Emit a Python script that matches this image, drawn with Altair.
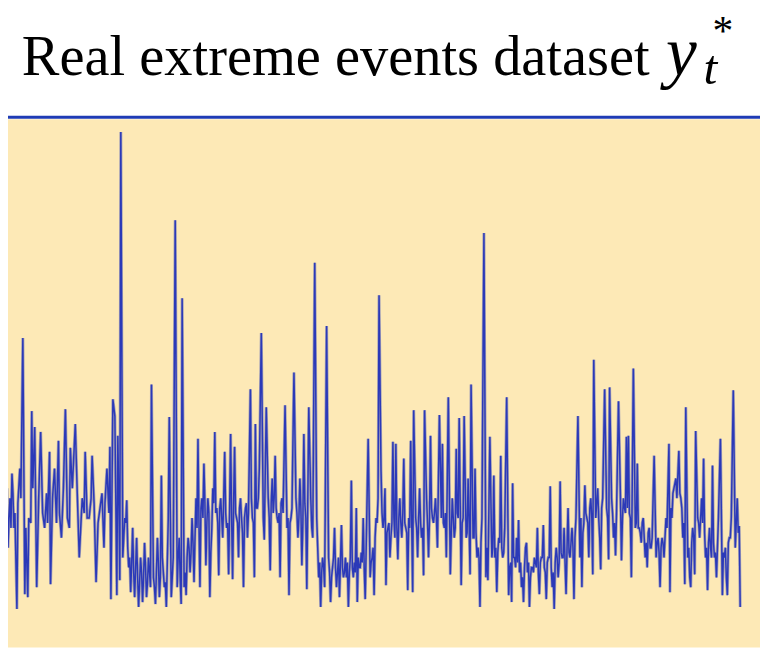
import altair as alt
import pandas as pd

# time position (sample index) and observed value of the series y*_t  (read pass 1: peaks and troughs)
t = [0, 2, 4, 6, 8, 10, 12, 14, 17, 20, 23, 25, 28, 32, 35, 37, 41, 45, 50, 51, 55, 59, 62, 66, 70, 71, 76, 80, 83, 86,
     90, 93, 97, 101, 105, 108, 111, 112, 114, 116, 118, 119, 121, 122, 124, 126, 128, 130, 132, 134, 136, 138, 140,
     142, 144, 146, 148, 150, 152, 153, 155, 157, 159, 161, 163, 166, 168, 170, 171, 173, 175, 177, 179, 181, 183, 184,
     186, 188, 190, 192, 194, 196, 198, 200, 202, 204, 206, 208, 210, 212, 213, 215, 217, 219, 221, 223, 225, 227, 229,
     231, 233, 235, 237, 239, 241, 243, 246, 248, 250, 252, 253, 255, 257, 258, 260, 262, 264, 266, 267, 269, 271, 273,
     275, 278, 280, 283, 285, 288, 290, 292, 294, 297, 299, 301, 303, 305, 307, 309, 310, 312, 314, 316, 318, 320, 322,
     324, 326, 328, 330, 332, 334, 336, 338, 340, 342, 343, 345, 347, 349, 352, 355, 357, 360, 361, 364, 367, 369, 372,
     374, 376, 378, 380, 382, 383, 385, 387, 389, 390, 392, 394, 397, 399, 400, 402, 404, 406, 408, 410, 412, 415, 417,
     418, 420, 422, 424, 426, 428, 429, 431, 433, 435, 437, 440, 442, 444, 446, 447, 449, 451, 453, 455, 457, 459, 461,
     463, 464, 466, 468, 469, 471, 473, 475, 476, 478, 480, 482, 485, 487, 489, 491, 493, 495, 497, 499, 502, 504, 506,
     508, 510, 512, 514, 517, 518, 520, 522, 524, 527, 529, 531, 532, 535, 537, 540, 543, 545, 547, 549, 552, 554, 556,
     558, 560, 562, 564, 566, 568, 570, 572, 574, 576, 578, 580, 582, 584, 586, 588, 591, 593, 595, 597, 599, 600, 602,
     604, 606, 607, 609, 611, 613, 615, 616, 618, 620, 622, 625, 627, 628, 630, 633, 634, 635, 637, 638, 640, 642, 644,
     646, 648, 650, 652, 654, 656, 658, 661, 663, 665, 667, 669, 671, 673, 676, 677, 679, 681, 683, 684, 686, 688, 690,
     692, 693, 695, 697, 698, 700, 702, 703, 705, 707, 709, 711, 713, 715, 717, 719, 720, 722, 724, 726, 728, 730, 732,
     734, 735, 737, 739, 741, 743, 745, 747, 748]

value = [110, 60, 150, 40, 70, 120, 145, 90, 8, 150, 282, 23, 20, 208, 192, 30, 187, 90, 167, 33, 150, 178, 80, 210, 90,
         171, 195, 60, 120, 167, 100, 163, 35, 110, 70, 150, 172, 18, 220, 203, 22, 183, 37, 490, 60, 100, 118, 50, 25,
         90, 20, 80, 10, 60, 15, 75, 20, 60, 30, 235, 40, 13, 80, 20, 143, 30, 10, 100, 202, 20, 60, 401, 30, 80, 13,
         322, 30, 22, 80, 45, 100, 35, 120, 180, 30, 120, 155, 52, 120, 20, 65, 130, 187, 110, 42, 120, 80, 167, 90, 43,
         185, 38, 172, 100, 60, 120, 30, 110, 80, 167, 230, 100, 40, 195, 110, 150, 287, 100, 78, 212, 120, 47, 140, 163,
         100, 40, 120, 214, 90, 22, 100, 247, 120, 80, 140, 52, 185, 100, 28, 212, 120, 80, 358, 100, 40, 10, 60, 30, 294,
         60, 15, 50, 90, 30, 60, 20, 93, 40, 60, 10, 138, 40, 110, 15, 50, 100, 18, 180, 40, 60, 22, 100, 120, 325, 147,
         90, 130, 32, 90, 60, 177, 80, 175, 58, 120, 80, 160, 90, 27, 178, 25, 209, 100, 60, 130, 80, 42, 209, 120, 60,
         183, 100, 120, 70, 204, 100, 175, 90, 60, 222, 43, 120, 80, 170, 100, 201, 32, 100, 203, 80, 140, 43, 235, 80,
         150, 60, 10, 100, 388, 40, 37, 182, 60, 143, 25, 80, 163, 60, 90, 222, 22, 15, 135, 60, 80, 98, 30, 15, 70, 75,
         10, 50, 60, 90, 23, 60, 93, 18, 60, 132, 30, 8, 70, 40, 137, 60, 90, 23, 110, 60, 90, 18, 100, 203, 60, 30, 133,
         100, 60, 120, 43, 260, 100, 130, 80, 48, 120, 230, 110, 58, 232, 120, 80, 62, 218, 120, 57, 120, 182, 110, 183,
         100, 40, 251, 90, 155, 90, 75, 100, 60, 50, 90, 70, 163, 60, 80, 30, 80, 60, 100, 175, 25, 100, 130, 140, 120,
         168, 120, 80, 33, 212, 60, 40, 30, 90, 43, 188, 100, 80, 120, 160, 60, 27, 90, 60, 153, 60, 40, 100, 180, 22, 60,
         40, 22, 80, 100, 229, 70, 120, 92, 10]

# read pass 2: samples inside the dense middle band
t_band = [1, 3, 5, 7, 9, 11, 13, 15, 18, 21, 26, 29, 31, 33, 36, 39, 43, 47, 48, 53, 57, 60, 64, 68, 73, 78, 82, 85, 88,
          92, 95, 99, 103, 106, 110, 120,
          125, 127, 129, 131, 133, 135, 137, 139, 141, 143, 145, 147, 149, 151, 156, 158, 160, 162, 164, 165, 167, 169,
          174, 180, 182, 187, 189, 191, 193, 195, 197, 199,
          201, 203, 205, 207, 209, 211, 214, 216, 218, 220, 222, 224, 226, 228, 230, 232, 234, 236, 238, 240, 242, 244,
          245, 247, 249, 251, 254, 256, 259,
          261, 272, 274, 276, 277, 279, 281, 282, 284, 286, 291, 293, 295, 300, 302, 304, 306, 308, 315,
          321, 323, 325, 327, 333, 335, 337, 339, 341, 344, 346, 348, 350, 351, 353, 354, 356, 358, 359, 362, 363, 365,
          366, 368, 370, 375, 377, 379,
          381, 386, 388, 391, 393, 395, 396, 398, 401, 403, 405, 407, 409, 411, 413, 414, 416, 421, 423, 425, 427, 432,
          434, 436, 438, 439, 441, 448, 450, 456, 458, 460, 462, 467, 472, 474, 479, 481,
          483, 484, 486, 492, 498, 500, 501, 503, 505, 507, 509,
          515, 516, 519, 521, 523, 525, 526, 528, 530, 533, 534, 536, 538, 539, 541, 542, 544, 546, 548, 550, 551, 553,
          555, 557, 559, 561, 563, 565, 567, 569, 571, 573, 575, 577, 579, 581,
          587, 589, 590, 592, 594, 596, 598, 603, 605, 608, 614, 619, 621, 623, 629, 631, 632, 636,
          643, 645, 647, 649, 651, 653, 655, 657, 659, 664, 666, 668, 670, 672, 674,
          678, 680, 682, 687, 689, 691,
          696, 699, 701, 706, 708, 710, 712, 714, 716, 718, 721, 723, 725, 731, 733, 736, 738, 744, 746]
v_band = [95, 120, 85, 130, 100, 90, 125, 105, 115, 120, 90, 100, 95, 130, 110, 120, 105, 125, 95, 120, 95, 105, 130,
          100, 130, 125, 100, 105, 100, 120, 115, 95, 125, 115, 105, 120,
          80, 95, 70, 60, 55, 45, 50, 40, 35, 45, 40, 50, 35, 45, 30, 45, 55, 40, 60, 45, 35, 55,
          40, 60, 40, 45, 60, 70, 65, 75, 80, 90,
          95, 110, 100, 115, 95, 105, 90, 115, 105, 95, 110, 100, 120, 105, 95, 110, 100, 115, 105, 95, 110, 100,
          85, 100, 115, 105, 120, 95, 110,
          120, 100, 115, 105, 120, 110, 95, 105, 115, 105, 100, 95, 110, 105, 100, 110, 95, 115, 90,
          70, 55, 45, 50, 45, 40, 60, 50, 45, 55, 50, 45, 40, 55, 45, 60, 50, 55, 45, 60, 50, 65,
          55, 50, 70, 55, 70, 80,
          95, 105, 100, 85, 95, 80, 95, 100, 90, 100, 95, 105, 95, 85, 100, 90, 95, 90, 100, 95, 90, 95,
          100, 110, 95, 105, 100, 95, 105, 85, 100, 90, 105, 95, 85, 95, 80, 85,
          70, 60, 75, 70, 70, 60, 70, 65, 75, 70, 65,
          50, 55, 60, 50, 55, 45, 55, 40, 50, 45, 55, 40, 50, 45, 55, 50, 45, 55, 60, 50, 45, 55,
          60, 50, 45, 55, 60, 55, 65, 60, 55, 70, 65, 75, 70, 80,
          100, 85, 95, 105, 95, 110, 100, 115, 100, 110, 100, 105, 95, 105, 100, 110, 105, 105,
          95, 90, 85, 95, 80, 75, 85, 70, 80, 75, 65, 70, 75, 80, 90,
          110, 125, 135, 125, 110, 95,
          70, 75, 80, 95, 100, 95, 85, 70, 75, 70, 75, 65, 70, 65, 70, 75, 80, 95, 85]

title_main = "Real extreme events dataset"
sym_y, sym_t, sym_star = "y", "t", "*"

W, H = 760, 643

df = pd.DataFrame({"t": t + t_band, "value": value + v_band}).sort_values("t").reset_index(drop=True)
one = pd.DataFrame({"k": [0]})

# page x equals sample position; page y of value v is 620 - v
xs = alt.Scale(domain=[8, 768], nice=False, zero=False)
ys = alt.Scale(domain=[612 - H, 612], nice=False, zero=False)

bg = alt.Chart(one).mark_rect(color="#FDE9B6").encode(
    x=alt.value(0), x2=alt.value(W), y=alt.value(109), y2=alt.value(H)
)
rule = alt.Chart(one).mark_rule(color="#1F3CB5", strokeWidth=3).encode(
    x=alt.value(0), x2=alt.value(W), y=alt.value(107)
)

line_soft = alt.Chart(df).mark_line(color="#8E90B8", strokeWidth=3.0, opacity=0.8).encode(
    x=alt.X("t:Q", scale=xs, axis=None),
    y=alt.Y("value:Q", scale=ys, axis=None),
    order="t:Q",
)
line_core = alt.Chart(df).mark_line(color="#1E2EB8", strokeWidth=1.5, opacity=0.9).encode(
    x=alt.X("t:Q", scale=xs, axis=None),
    y=alt.Y("value:Q", scale=ys, axis=None),
    order="t:Q",
)

FONT = "Liberation Serif, Times New Roman, DejaVu Serif, serif"

def label(txt, x, y, size, style="normal"):
    return alt.Chart(pd.DataFrame({"s": [txt]})).mark_text(
        font=FONT, fontSize=size, fontStyle=style, color="#000000",
        align="left", baseline="alphabetic"
    ).encode(text="s:N", x=alt.value(x), y=alt.value(y))

title = label(title_main, 14, 64, 57)
ty = label(sym_y, 665, 64, 70, "italic")
tt = label(sym_t, 703, 73, 50, "italic")
ts = label(sym_star, 712, 34, 42)

chart = alt.layer(bg, rule, line_soft, line_core, title, ty, tt, ts).properties(
    width=W, height=H, padding=0, autosize=alt.AutoSizeParams(type="none"),
    background="#FFFFFF"
).configure_view(stroke=None)

chart.save("out.html", embed_options={"renderer": "svg", "actions": False})
